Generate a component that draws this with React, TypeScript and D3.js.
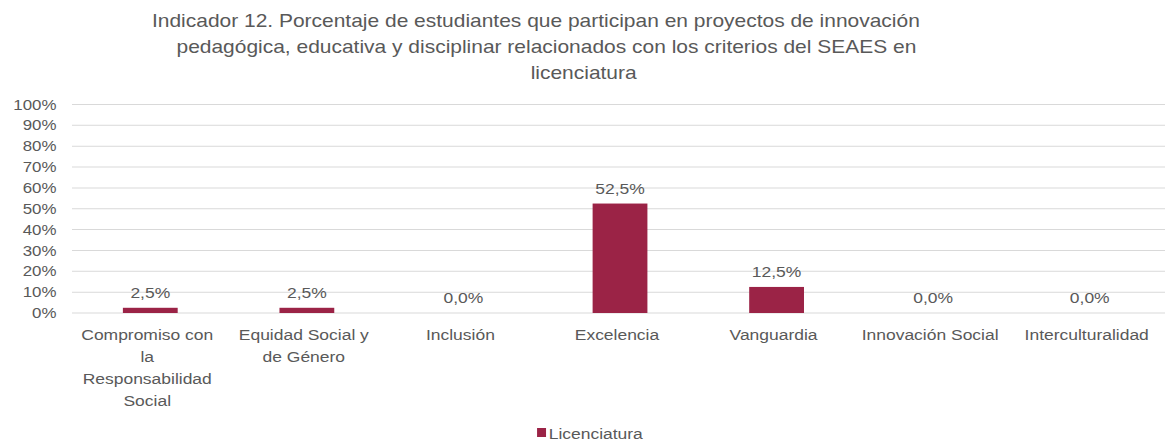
import React, { useEffect, useRef } from "react";
import * as d3 from "d3";

const categories = [
  "Compromiso con la Responsabilidad Social",
  "Equidad Social y de Género",
  "Inclusión",
  "Excelencia",
  "Vanguardia",
  "Innovación Social",
  "Interculturalidad",
];
const licenciatura = [2.5, 2.5, 0, 52.5, 12.5, 0, 0];
const yTicks = [0, 10, 20, 30, 40, 50, 60, 70, 80, 90, 100];
const titleLines = [
  "Indicador 12. Porcentaje de estudiantes que participan en proyectos de innovación",
  "pedagógica, educativa y disciplinar relacionados con los criterios del SEAES en",
  "licenciatura",
];
const seriesName = "Licenciatura";

// the reference is stretched horizontally, so we draw in a narrower viewBox
const W = 1165;
const H = 444;
const VW = 1000;
const FONT = "Arial, 'Liberation Sans', sans-serif";
const TEXT = "#595959";
const BAR = "#9b2346";
const titleCenters = [460, 469, 501];

const App = () => {
  const ref = useRef<SVGSVGElement | null>(null);

  useEffect(() => {
    if (!ref.current) return;
    const svg = d3.select(ref.current);
    svg.selectAll("*").remove();

    const x = d3
      .scaleBand()
      .domain(categories)
      .range([61.8, 1002.6])
      .paddingInner(0.65)
      .paddingOuter(0.325);
    const y = d3.scaleLinear().domain([0, 100]).range([313, 104.5]);

    // title
    svg
      .append("text")
      .attr("text-anchor", "middle")
      .style("font-family", FONT)
      .style("font-size", "18px")
      .style("fill", TEXT)
      .selectAll("tspan")
      .data(titleLines)
      .enter()
      .append("tspan")
      .attr("x", (_, i) => titleCenters[i])
      .attr("y", (_, i) => 27 + i * 26)
      .text((d) => d);

    // gridlines
    svg
      .append("g")
      .selectAll("line")
      .data(yTicks)
      .enter()
      .append("line")
      .attr("x1", 61.8)
      .attr("x2", VW)
      .attr("y1", (d) => y(d))
      .attr("y2", (d) => y(d))
      .attr("stroke", "#d9d9d9")
      .attr("stroke-width", 1);

    // y labels
    svg
      .append("g")
      .selectAll("text")
      .data(yTicks)
      .enter()
      .append("text")
      .attr("x", 48.5)
      .attr("y", (d) => y(d))
      .attr("dy", "0.35em")
      .attr("text-anchor", "end")
      .style("font-family", FONT)
      .style("font-size", "14.5px")
      .style("fill", TEXT)
      .text((d) => `${d}%`);

    // bars
    svg
      .append("g")
      .selectAll("rect")
      .data(licenciatura)
      .enter()
      .append("rect")
      .attr("x", (_, i) => x(categories[i])!)
      .attr("y", (d) => y(d))
      .attr("width", x.bandwidth())
      .attr("height", (d) => y(0) - y(d))
      .attr("fill", BAR);

    // value labels
    svg
      .append("g")
      .selectAll("text")
      .data(licenciatura)
      .enter()
      .append("text")
      .attr("x", (_, i) => x(categories[i])! + x.bandwidth() / 2)
      .attr("y", (d) => y(d) - 10)
      .attr("text-anchor", "middle")
      .style("font-family", FONT)
      .style("font-size", "15px")
      .style("fill", TEXT)
      .text((d) => `${d.toFixed(1).replace(".", ",")}%`);

    // category labels, wrapped
    const catText = svg
      .append("g")
      .selectAll("text")
      .data(categories)
      .enter()
      .append("text")
      .attr("text-anchor", "middle")
      .style("font-family", FONT)
      .style("font-size", "15px")
      .style("fill", TEXT);

    catText.each(function (d) {
      const t = d3.select(this);
      const cx = x(d)! + x.bandwidth() / 2 - 2.6;
      const words = d.split(" ");
      const lines: string[] = [];
      let cur: string[] = [];
      const probe = t.append("tspan");
      words.forEach((w) => {
        probe.text([...cur, w].join(" "));
        if (cur.length && (probe.node() as SVGTSpanElement).getComputedTextLength() > 123) {
          lines.push(cur.join(" "));
          cur = [w];
        } else {
          cur.push(w);
        }
      });
      if (cur.length) lines.push(cur.join(" "));
      probe.remove();
      lines.forEach((ln, i) => {
        t.append("tspan")
          .attr("x", cx)
          .attr("y", 340.5 + i * 21.7)
          .text(ln);
      });
    });

    // legend
    const lg = svg.append("g");
    lg.append("rect")
      .attr("x", 461)
      .attr("y", 428)
      .attr("width", 7.7)
      .attr("height", 9)
      .attr("fill", BAR);
    lg.append("text")
      .attr("x", 471)
      .attr("y", 439)
      .style("font-family", FONT)
      .style("font-size", "15px")
      .style("fill", TEXT)
      .text(seriesName);
  }, []);

  return (
    <div style={{ position: "fixed", left: 0, top: 0, width: W, height: H, background: "#fff" }}>
      <svg
        ref={ref}
        width={W}
        height={H}
        viewBox={`0 0 ${VW} ${H}`}
        preserveAspectRatio="none"
        style={{ display: "block" }}
      />
    </div>
  );
};

export default App;
